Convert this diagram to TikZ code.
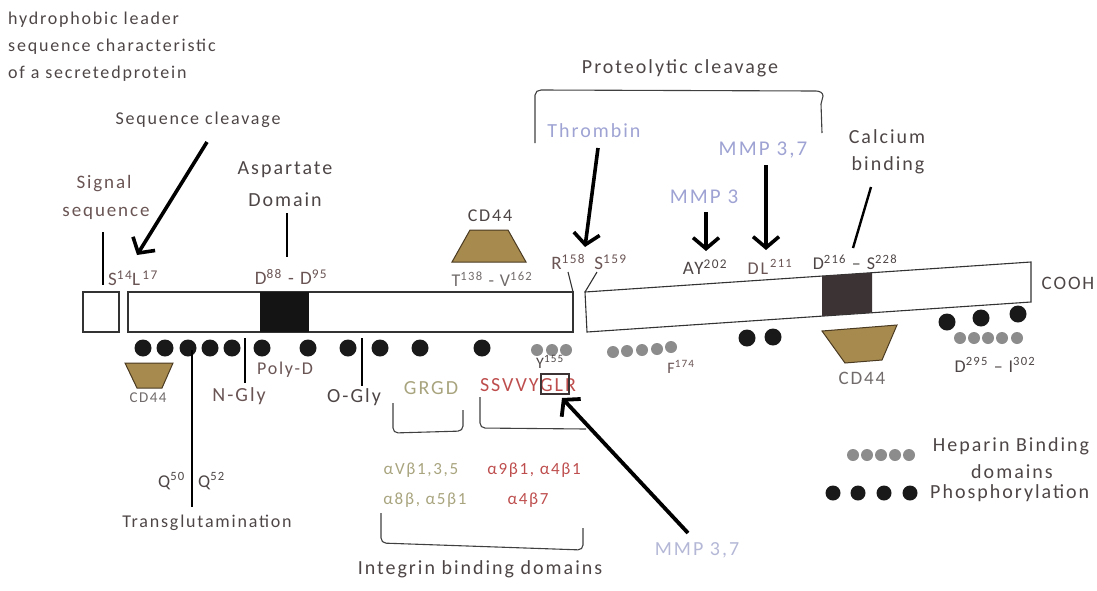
\documentclass[tikz,border=0pt]{standalone}
\usepackage{fontspec}
\setmainfont{Carlito}[LetterSpace=10]
\usetikzlibrary{arrows.meta}
\definecolor{tdark}{HTML}{4E4646}
\definecolor{tbrown}{HTML}{6A5454}
\definecolor{tblue}{HTML}{9EA3D3}
\definecolor{tpale}{HTML}{B4B8D6}
\definecolor{tolive}{HTML}{A8A47E}
\definecolor{tred}{HTML}{BE4E4E}
\definecolor{cdfill}{HTML}{A68A4E}
\definecolor{cdline}{HTML}{4A3A22}
\definecolor{dblock}{HTML}{3C3434}
\definecolor{gdot}{HTML}{8C8C8C}
\newcommand{\fs}[1]{\fontsize{#1}{#1}\selectfont}
\tikzset{
  lbl/.style={inner sep=0pt, text=tdark, font=\fs{20}},
  sml/.style={inner sep=0pt, text=tbrown, font=\fs{17}},
  tiny/.style={inner sep=0pt, text=tdark, font=\fs{16}},
  bar/.style={draw=black!80, line width=1.1pt, fill=white},
  bigarrow/.style={line width=3.6pt, -{Straight Barb[length=11pt,width=26pt]}},
  stick/.style={line width=2.4pt},
  bdot/.style={circle, fill=black!90, minimum size=17pt, inner sep=0pt},
  ldot/.style={circle, fill=black!90, minimum size=15pt, inner sep=0pt},
  gdotst/.style={circle, fill=gdot, minimum size=12pt, inner sep=0pt},
  cdshape/.style={draw=cdline, line width=1pt, fill=cdfill},
  brk/.style={line width=1.1pt, draw=black!75, rounded corners=5pt},
}
\begin{document}
\begin{tikzpicture}[x=1pt,y=-1pt]
\useasboundingbox (0,0) rectangle (1097,590);

% top-left note
\node[lbl, anchor=west, font=\fs{18}] (hyd1) at (8,20) {hydrophobic leader};
\node[lbl, anchor=west, font=\fs{18}] (hyd2) at (8,47) {sequence characteristic};
\node[lbl, anchor=west, font=\fs{18}] (hyd3) at (8,74) {of a secretedprotein};

% boxes
\draw[bar] (83,292) rectangle (119,332);
\draw[bar] (128,292) rectangle (573,332);
\fill[black!92] (260,292) rectangle (309,332);
\draw[bar] (585,292) -- (1031,262) -- (1031,302) -- (587,332) -- cycle;
\fill[dblock] (822,276) -- (872,272.6) -- (872,312.6) -- (822,316) -- cycle;
\node[lbl, font=\fs{19}] (cooh) at (1068,283) {COOH};

% top labels
\node[lbl, font=\fs{18}] (seqcl) at (198,120) {Sequence cleavage};
\coordinate (seqclS) at (207,142);
\coordinate (seqclT) at (137,255);
\draw[bigarrow] (seqclS) -- (seqclT);

\node[lbl, text=tbrown, font=\fs{19}] (sig1) at (104,184) {Signal};
\node[lbl, text=tbrown, font=\fs{19}] (sig2) at (106,213) {sequence};
\coordinate (sigA) at (103,232);
\coordinate (sigB) at (103,285);
\draw[stick] (sigA) -- (sigB);
\node[lbl, text=tbrown, anchor=west, font=\fs{19}] (sl) at (108,278) {S\textsuperscript{14}L\textsuperscript{\,17}};

\node[lbl] (asp1) at (285,170) {Aspartate};
\node[lbl] (asp2) at (285,200) {Domain};
\coordinate (aspA) at (287,213);
\coordinate (aspB) at (287,257);
\draw[stick] (aspA) -- (aspB);
\node[lbl, text=tbrown, font=\fs{19}] (dd) at (291,277) {D\textsuperscript{88} - D\textsuperscript{95}};

\node[lbl, font=\fs{18}] (cd44a) at (490,216) {CD44};
\draw[cdshape] (470,230) -- (508,230) -- (526,262) -- (452,262) -- cycle;
\node[lbl, text=tdark!80, font=\fs{18}] (tv) at (492,279) {T\textsuperscript{138} - V\textsuperscript{162}};

\node[lbl, text=tbrown, font=\fs{19}] (rs) at (589,262) {R\textsuperscript{158}\, S\textsuperscript{159}};
\coordinate (rA) at (568,272); \coordinate (rB) at (573,292);
\coordinate (sA) at (597,272); \coordinate (sB) at (585,292);
\draw[line width=1.1pt, black!80] (rA) -- (rB);
\draw[line width=1.1pt, black!80] (sA) -- (sB);

% proteolytic cleavage
\node[lbl] (prot) at (680,68) {Proteolytic cleavage};
\draw[line width=1.1pt, black!75] (535,143) -- (535,95) to[out=90,in=180] (541,90) -- (816,91) to[out=0,in=90] (823,96) to[out=-90,in=90] (821,104) -- (822,133);

\node[lbl, text=tblue] (thr) at (594,131) {Thrombin};
\coordinate (thrS) at (598,148);
\coordinate (thrT) at (585,247);
\draw[bigarrow] (thrS) -- (thrT);

\node[lbl, text=tblue, font=\fs{21}] (mmp37) at (763,150) {MMP 3,7};
\coordinate (m37S) at (766,165);
\coordinate (m37T) at (766,250);
\draw[bigarrow] (m37S) -- (m37T);

\node[lbl, text=tblue, font=\fs{21}] (mmp3) at (704,197) {MMP 3};
\coordinate (m3S) at (706,212);
\coordinate (m3T) at (706,251);
\draw[bigarrow] (m3S) -- (m3T);

\node[lbl, font=\fs{19}] (ay) at (705,267) {AY\textsuperscript{202}};
\node[lbl, text=tbrown, font=\fs{18}] (dl) at (770,267) {DL\textsuperscript{\,211}};
\node[lbl, font=\fs{18}] (ds) at (855,262) {D\textsuperscript{216} -- S\textsuperscript{228}};

\node[lbl] (cal1) at (887,137) {Calcium};
\node[lbl] (cal2) at (888,165) {binding};
\coordinate (calA) at (871,187);
\coordinate (calB) at (853,248);
\draw[stick] (calA) -- (calB);

% dots under left bar
\foreach \x [count=\i] in {143,165,188,210,232,262,308,348,380,420,482}
  \node[bdot] (pd\i) at (\x,348) {};
\coordinate (nglyA) at (245,338); \coordinate (nglyB) at (245,383);
\coordinate (oglyA) at (362,338); \coordinate (oglyB) at (362,386);
\draw[line width=2pt] (nglyA) -- (nglyB);
\draw[line width=2pt] (oglyA) -- (oglyB);
\node[lbl, text=tbrown] (ngly) at (239,396) {N-Gly};
\node[lbl] (ogly) at (354,397) {O-Gly};
\node[sml, font=\fs{18}] (polyd) at (285,370) {Poly-D};

\draw[cdshape] (125,363) -- (173,363) -- (162,388) -- (137,388) -- cycle;
\node[sml, text=tdark!80, font=\fs{15}] (cd44b) at (148,398) {CD44};

\coordinate (tgA) at (192,350);
\coordinate (tgB) at (192,507);
\draw[line width=2.4pt] (tgA) -- (tgB);
\node[lbl, anchor=east, font=\fs{18}] (q50) at (185,481) {Q\textsuperscript{50}};
\node[lbl, anchor=west, font=\fs{18}] (q52) at (198,481) {Q\textsuperscript{52}};
\node[lbl, font=\fs{18}] (tg) at (207,523) {Transglutamination};

% grey dots
\foreach \x [count=\i] in {537,552,566}
  \node[gdotst] (gy\i) at (\x,350) {};
\node[tiny] (y155) at (550,362) {Y\textsuperscript{155}};
\foreach \x/\y [count=\i] in {613/352,627/351,642/350,657/349,671/347}
  \node[gdotst] (gf\i) at (\x,\y) {};
\node[tiny, text=tbrown] (f174) at (681,367) {F\textsuperscript{174}};

\node[bdot] (rd1) at (747,338) {};
\node[bdot] (rd2) at (773,337) {};

\draw[cdshape] (822,331) -- (897,325) -- (882,360) -- (845,363) -- cycle;
\node[lbl, text=tdark!80, font=\fs{19}] (cd44c) at (862,378) {CD44};

\node[bdot] (rd3) at (947,322) {};
\node[bdot] (rd4) at (981,318) {};
\node[bdot] (rd5) at (1018,314) {};
\foreach \x [count=\i] in {960,974,988,1002,1017}
  \node[gdotst] (gd\i) at (\x,338) {};
\node[tiny, font=\fs{18}] (di) at (995,365) {D\textsuperscript{295} -- I\textsuperscript{302}};

% integrin region
\node[lbl, text=tolive, font=\fs{20}] (grgd) at (431,388) {GRGD};
\node[lbl, text=tred, font=\fs{20}] (ssv) at (528,385) {SSVVYGLR};
\draw[line width=1.2pt, dblock] (541,374) rectangle (569,394);

\draw[brk] (393,403) -- (393,433) -- (463,431) -- (463,410);
\draw[brk] (480,397) -- (480,428) -- (586,429);

\node[sml, text=tolive] (a1) at (421,470) {αVβ1,3,5};
\node[sml, text=tolive] (a2) at (425,500) {α8β, α5β1};
\node[sml, text=tred] (a3) at (534,470) {α9β1, α4β1};
\node[sml, text=tred] (a4) at (528,500) {α4β7};

\draw[brk] (381,513) -- (381,543) -- (583,550) -- (583,528);
\node[lbl, font=\fs{20}] (intg) at (480,569) {Integrin binding domains};

\node[lbl, text=tpale] (mmpb) at (697,550) {MMP 3,7};
\coordinate (mbS) at (688,533);
\coordinate (mbT) at (562,398);
\draw[bigarrow, line width=3.8pt] (mbS) -- (mbT);

% legend
\foreach \x [count=\i] in {853,867,881,895,909}
  \node[gdotst] (lg\i) at (\x,455) {};
\node[lbl] (hep1) at (1011,446) {Heparin Binding};
\node[lbl] (hep2) at (1012,472) {domains};
\foreach \x [count=\i] in {833,858,884,910}
  \node[ldot] (lb\i) at (\x,493) {};
\node[lbl, anchor=west] (phos) at (930,493) {Phosphorylation};
\end{tikzpicture}
\end{document}
